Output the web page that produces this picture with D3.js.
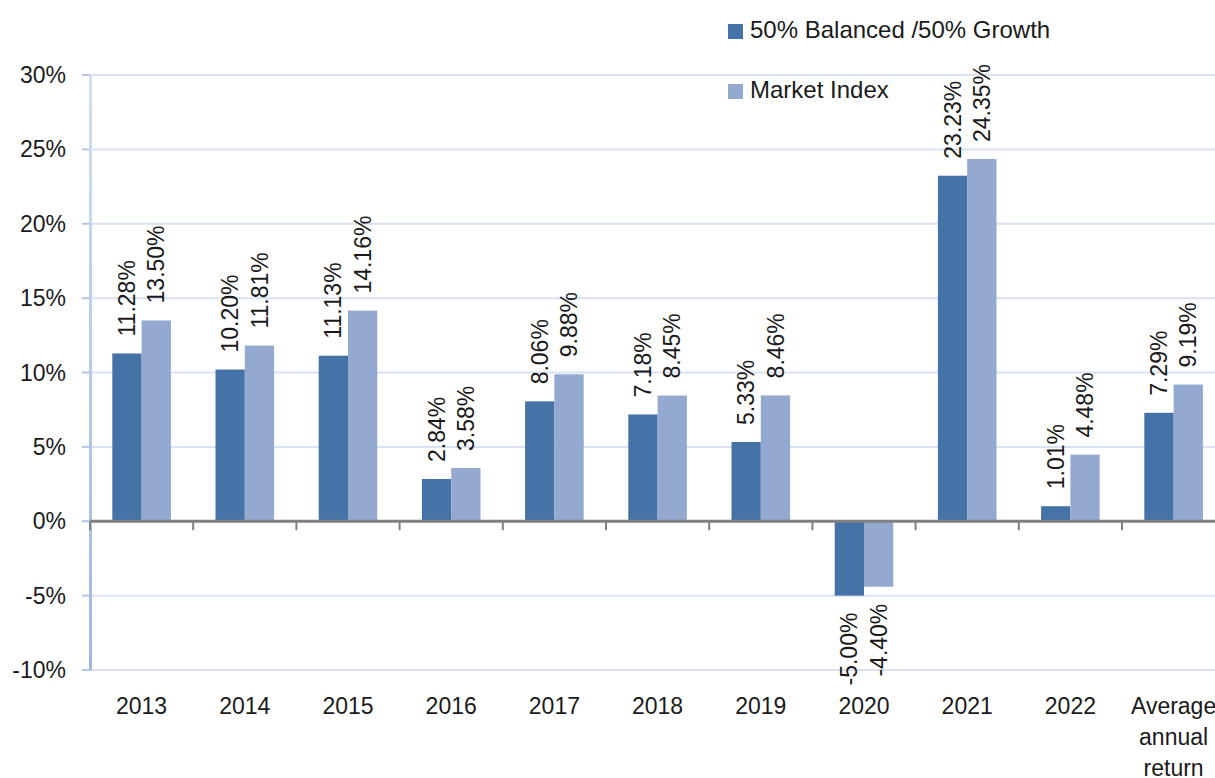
<html>
<head>
<meta charset="utf-8">
<title>Annual returns</title>
<style>
  body { margin: 0; background: #fff; }
  text { font-family: "Liberation Sans", Arial, sans-serif; fill: #1a1a1a; }
</style>
</head>
<body>
<script src="https://d3js.org/d3.v7.min.js"></script>
<script>
// data
var categories = ["2013", "2014", "2015", "2016", "2017", "2018", "2019", "2020", "2021", "2022", "Average annual return"];
var seriesNames = ["50% Balanced /50% Growth", "Market Index"];
var balanced = [11.28, 10.20, 11.13, 2.84, 8.06, 7.18, 5.33, -5.00, 23.23, 1.01, 7.29];
var market = [13.50, 11.81, 14.16, 3.58, 9.88, 8.45, 8.46, -4.40, 24.35, 4.48, 9.19];
var yTicks = [-10, -5, 0, 5, 10, 15, 20, 25, 30];
var colors = ["#4573a7", "#94a9cf"];

var W = 1215, H = 778;
var left = 90, step = 103.2;

var svg = d3.select("body").append("svg")
    .attr("width", W)
    .attr("height", H);

// y axis gradient line
var defs = svg.append("defs");
var grad = defs.append("linearGradient")
    .attr("id", "axisGrad")
    .attr("x1", 0).attr("y1", 0).attr("x2", 0).attr("y2", 1);
grad.append("stop").attr("offset", "0%").attr("stop-color", "#d3def2");
grad.append("stop").attr("offset", "100%").attr("stop-color", "#9db7e5");

var x0 = d3.scaleBand()
    .domain(categories)
    .range([left, left + categories.length * step])
    .padding(0);

var x1 = d3.scaleBand()
    .domain([0, 1])
    .range([22.3, step - 22.3]);

var y = d3.scaleLinear()
    .domain([-10, 30])
    .range([670, 75]);

// gridlines
svg.append("g").selectAll("line")
    .data(yTicks)
    .join("line")
    .attr("x1", left)
    .attr("x2", W)
    .attr("y1", function(d) { return y(d); })
    .attr("y2", function(d) { return y(d); })
    .attr("stroke", "#d9e2f3")
    .attr("stroke-width", 2);

// tick stubs on the left
svg.append("g").selectAll("line")
    .data(yTicks)
    .join("line")
    .attr("x1", left - 8)
    .attr("x2", left)
    .attr("y1", function(d) { return y(d); })
    .attr("y2", function(d) { return y(d); })
    .attr("stroke", "#b3c6e8")
    .attr("stroke-width", 2);

// y axis line
svg.append("rect")
    .attr("x", left - 1)
    .attr("y", y(30))
    .attr("width", 3)
    .attr("height", y(-10) - y(30))
    .attr("fill", "url(#axisGrad)");

// y labels
svg.append("g").selectAll("text")
    .data(yTicks)
    .join("text")
    .attr("x", 66)
    .attr("y", function(d) { return y(d); })
    .attr("dy", "0.35em")
    .attr("text-anchor", "end")
    .style("font-size", "23px")
    .text(function(d) { return d + "%"; });

// bars
var rows = categories.map(function(c, i) {
    return { cat: c, values: [balanced[i], market[i]] };
});

var groups = svg.append("g").selectAll("g")
    .data(rows)
    .join("g")
    .attr("transform", function(d) { return "translate(" + x0(d.cat) + ",0)"; });

groups.selectAll("rect")
    .data(function(d) { return d.values.map(function(v, k) { return { k: k, v: v }; }); })
    .join("rect")
    .attr("x", function(d) { return x1(d.k); })
    .attr("width", x1.bandwidth())
    .attr("y", function(d) { return y(Math.max(0, d.v)); })
    .attr("height", function(d) { return Math.abs(y(d.v) - y(0)); })
    .attr("fill", function(d) { return colors[d.k]; });

// value labels, rotated
groups.selectAll("text")
    .data(function(d) { return d.values.map(function(v, k) { return { k: k, v: v }; }); })
    .join("text")
    .attr("transform", function(d) {
        var cx = x1(d.k) + x1.bandwidth() / 2;
        var ty = d.v >= 0 ? y(d.v) - 17 : y(d.v) + 17;
        return "translate(" + cx + "," + ty + ") rotate(-90)";
    })
    .attr("dy", "0.35em")
    .attr("text-anchor", function(d) { return d.v >= 0 ? "start" : "end"; })
    .style("font-size", "23px")
    .text(function(d) { return d.v.toFixed(2) + "%"; });

// zero line and category ticks
svg.append("g").selectAll("line")
    .data(d3.range(categories.length + 1))
    .join("line")
    .attr("x1", function(i) { return left + i * step; })
    .attr("x2", function(i) { return left + i * step; })
    .attr("y1", y(0))
    .attr("y2", y(0) + 9)
    .attr("stroke", "#808080")
    .attr("stroke-width", 2);

svg.append("line")
    .attr("x1", left)
    .attr("x2", W)
    .attr("y1", y(0))
    .attr("y2", y(0))
    .attr("stroke", "#808080")
    .attr("stroke-width", 3);

// category labels
var catLabels = svg.append("g").selectAll("text")
    .data(categories)
    .join("text")
    .attr("x", function(d) { return x0(d) + step / 2; })
    .attr("y", 714)
    .attr("text-anchor", "middle")
    .style("font-size", "23px");

catLabels.each(function(d) {
    var words = d.split(" ");
    var t = d3.select(this);
    words.forEach(function(w, i) {
        t.append("tspan")
            .attr("x", x0(d) + step / 2)
            .attr("dy", i === 0 ? 0 : 31)
            .text(w);
    });
});

// legend
var legend = svg.append("g").selectAll("g")
    .data(seriesNames)
    .join("g")
    .attr("transform", function(d, i) { return "translate(728," + (24 + i * 60) + ")"; });

legend.append("rect")
    .attr("width", 15)
    .attr("height", 15)
    .attr("fill", function(d, i) { return colors[i]; });

legend.append("text")
    .attr("x", 22)
    .attr("y", 14)
    .style("font-size", "24px")
    .text(function(d) { return d; });
</script>
</body>
</html>
